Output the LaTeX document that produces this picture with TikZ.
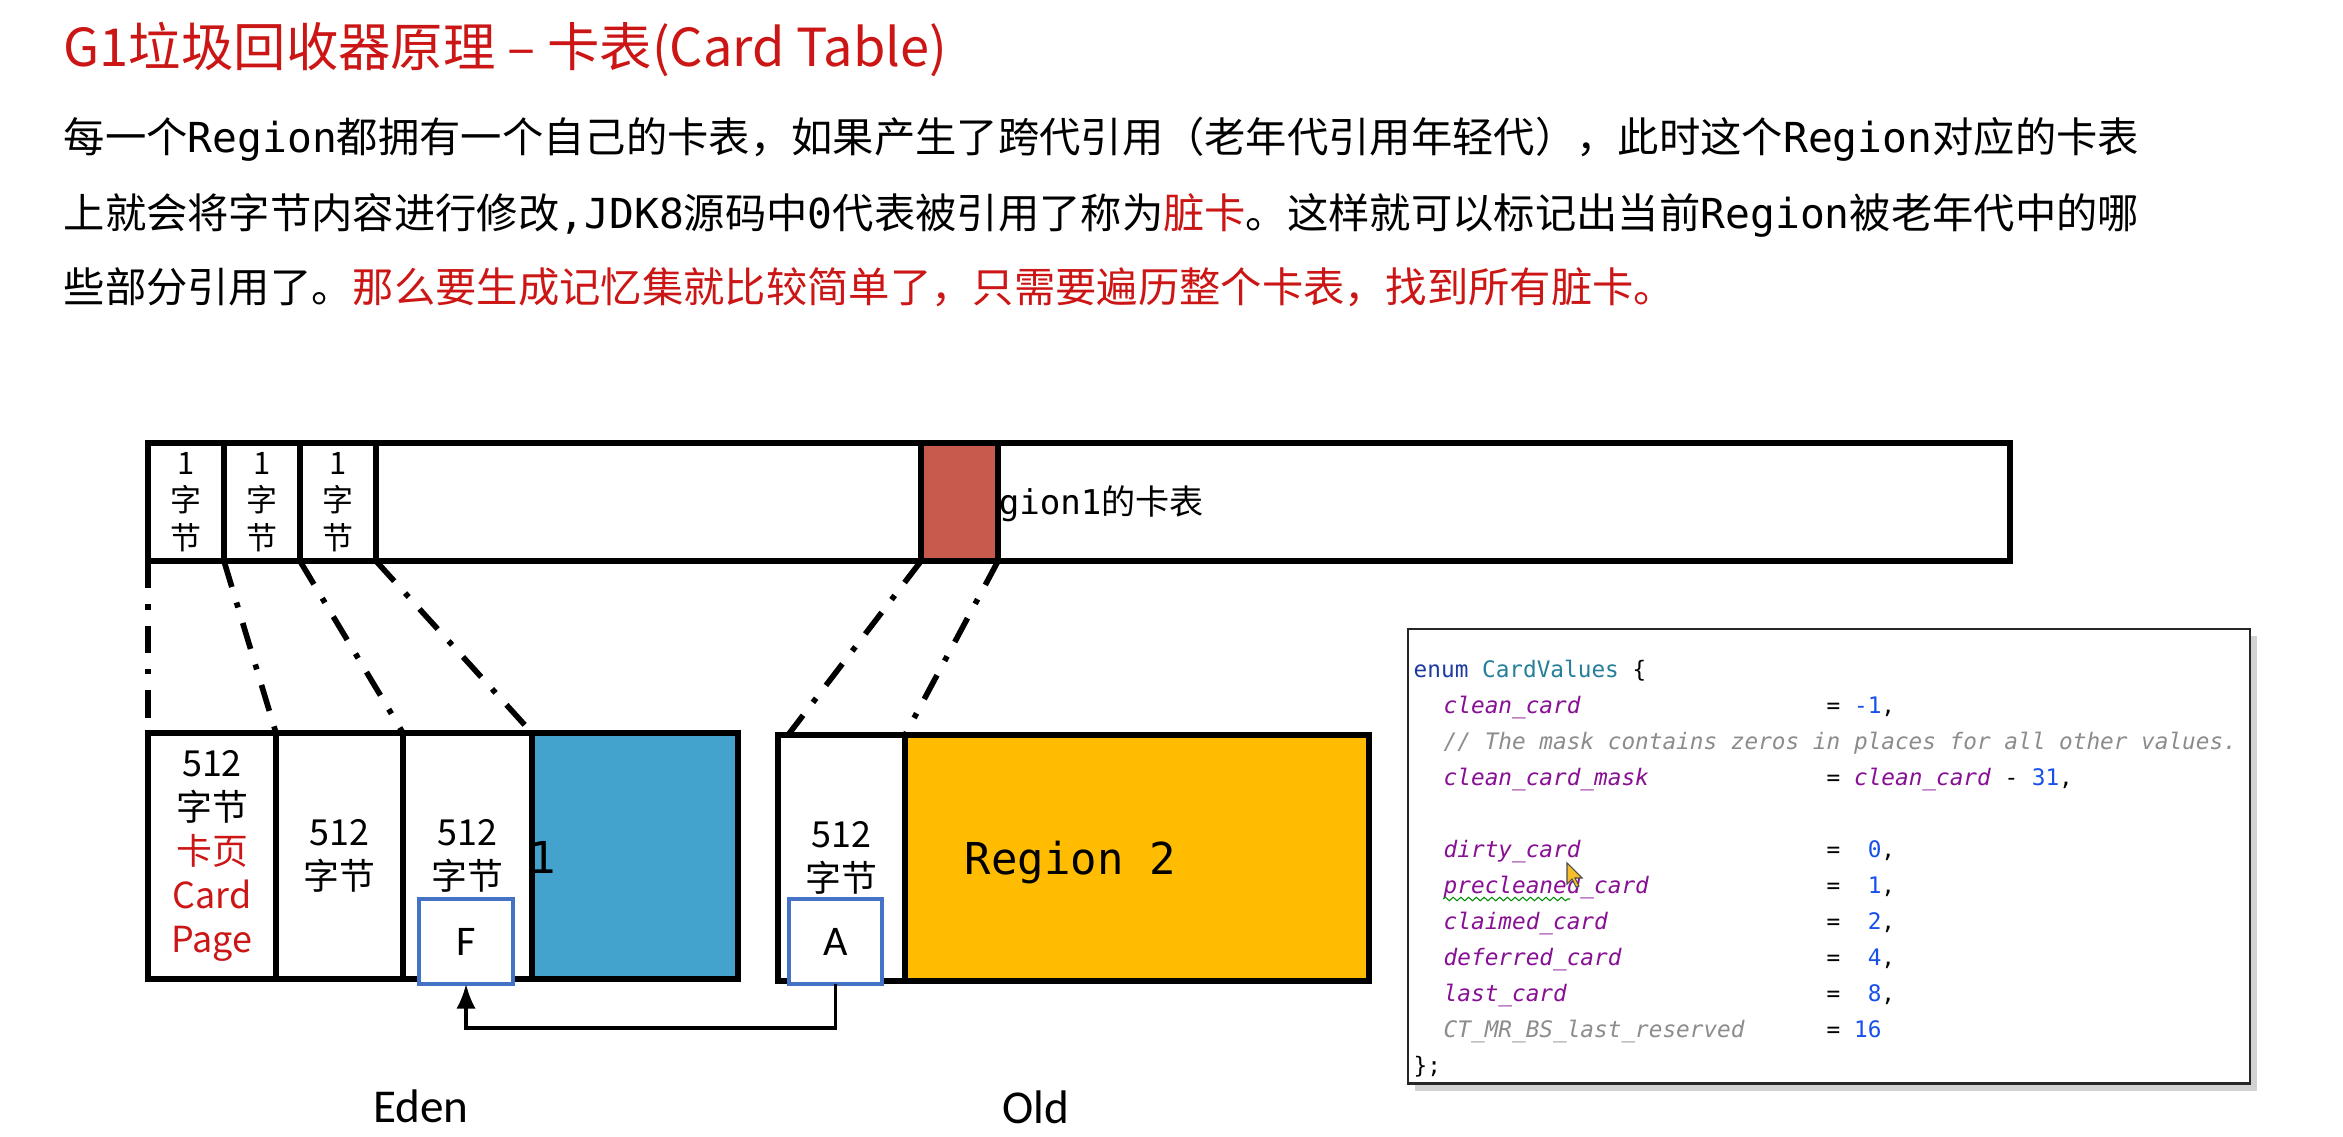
\documentclass[tikz,border=0pt]{standalone}
\usepackage{fontspec}
\setmainfont{Noto Sans CJK SC}
\newfontfamily\monofont{DejaVu Sans Mono}
\newfontfamily\calfont{Carlito}
\usetikzlibrary{arrows.meta,calc,shadows,decorations.pathmorphing}

\definecolor{titlered}{RGB}{204,22,22}
\definecolor{cardred}{RGB}{200,90,77}
\definecolor{edenblue}{RGB}{68,163,204}
\definecolor{oldorange}{RGB}{255,188,0}
\definecolor{frameblue}{RGB}{68,114,196}
\definecolor{kwblue}{RGB}{30,60,160}
\definecolor{typeteal}{RGB}{38,127,153}
\definecolor{constpurple}{RGB}{135,16,148}
\definecolor{cmtgray}{RGB}{140,140,140}
\definecolor{numblue}{RGB}{23,80,235}

\newcommand\fsz[2]{\fontsize{#1}{#2}\selectfont}
\newcommand\mn[1]{{\monofont #1}}

\begin{document}
\begin{tikzpicture}[x=0.01cm,y=-0.01cm,
  outline/.style={draw, line width=1.6pt, rectangle, inner sep=0pt, outer sep=0pt, anchor=north west},
  cardcell/.style={outline, minimum height=1.18cm, align=center, font=\fsz{8.8pt}{10.6pt}},
  memcell/.style={outline, minimum height=2.46cm, align=center, font=\fsz{10.2pt}{12.5pt}},
  objbox/.style={draw=frameblue, line width=1.2pt, fill=white, rectangle, inner sep=0pt, outer sep=0pt,
    anchor=north west, minimum height=0.85cm, font={\calfont\fsz{12pt}{14pt}}},
  dashdot/.style={line width=1.6pt, dash pattern=on 7.7pt off 4.6pt on 1.5pt off 4.6pt},
  para/.style={anchor=base west, inner sep=0pt, font=\fsz{11.75pt}{14pt}},
  code/.style={anchor=base west, inner sep=0pt, font={\monofont\fsz{6.46pt}{8pt}}},
  genlabel/.style={inner sep=0pt, font={\calfont\fsz{13.4pt}{16pt}}},
  refarrow/.style={line width=0.9pt, -{Latex[length=7pt,width=5.5pt]}}
]
\useasboundingbox[fill=white] (0,0) rectangle (2343,1137);

% heading and explanation
\node[anchor=base west, inner sep=0pt, text=titlered, font=\fsz{14.9pt}{17pt}] (title) at (63,67)
  {G1垃圾回收器原理 – 卡表(Card Table)};
\node[para] (p1) at (63,153) {每一个\mn{Region}都拥有一个自己的卡表，如果产生了跨代引用（老年代引用年轻代），此时这个\mn{Region}对应的卡表};
\node[para] (p2) at (63,229) {上就会将字节内容进行修改\mn{,JDK8}源码中\mn{0}代表被引用了称为{\color{titlered}脏卡}。这样就可以标记出当前\mn{Region}被老年代中的哪};
\node[para] (p3) at (63,303) {些部分引用了。{\color{titlered}那么要生成记忆集就比较简单了，只需要遍历整个卡表，找到所有脏卡。}};

% card table of region 1
\node[outline, minimum width=18.61cm, minimum height=1.18cm] (ct) at (148,443) {};
\node[anchor=base west, inner sep=0pt, font={\fsz{9.7pt}{12pt}}] (ctlabel) at (957,515) {\mn{Region1}的卡表};
\node[cardcell, minimum width=0.76cm] (c1) at (148,443) {1\\字\\节};
\node[cardcell, minimum width=0.76cm] (c2) at (224,443) {1\\字\\节};
\node[cardcell, minimum width=0.76cm] (c3) at (300,443) {1\\字\\节};
\node[cardcell, minimum width=0.77cm, fill=cardred] (rc) at (921,443) {};

% Eden region split into 512-byte card pages
\node[memcell, minimum width=1.28cm] (e1) at (148,733)
  {512\\字节\\{\color{titlered}卡页}\\{\color{titlered}Card}\\{\color{titlered}Page}};
\node[memcell, minimum width=1.27cm] (e2) at (276,733) {512\\字节};
\node[memcell, minimum width=1.29cm] (e3) at (403,733) {512\\字节};
\node[memcell, minimum width=2.06cm, fill=edenblue] (eb) at (532,733) {};
\node[anchor=base, inner sep=0pt, font={\monofont\fsz{12.5pt}{15pt}}] (eblabel) at (543,873) {1};

% Old region
\node[memcell, minimum width=1.27cm] (o1) at (778,735) {512\\字节};
\node[memcell, minimum width=4.64cm, fill=oldorange] (ob) at (905,735) {};
\node[anchor=base west, inner sep=0pt, font={\monofont\fsz{12.5pt}{15pt}}] (oblabel) at (964,874) {Region 2};

% objects and the cross-generation reference
\node[objbox, minimum width=0.94cm] (F) at (419,899) {F};
\node[objbox, minimum width=0.93cm] (A) at (789,899) {A};
\draw[refarrow] (A.south) -- ++(0,44) -| (F.south);

% mapping of card entries to card pages
\draw[dashdot] (c1.south west) -- (e1.north west);
\draw[dashdot] (c2.south west) -- (e2.north west);
\draw[dashdot] (c3.south west) -- (e3.north west);
\draw[dashdot] (c3.south east) -- (eb.north west);
\draw[dashdot] (rc.south west) -- ($(o1.north west)+(10,0)$);
\draw[dashdot] (rc.south east) -- (ob.north west);

% generation labels
\node[genlabel] (eden) at (421,1106) {Eden};
\node[genlabel] (old) at (1036,1107) {Old};

% HotSpot source excerpt
\node[draw=black!85, line width=0.7pt, fill=white, rectangle, anchor=north west, inner sep=0pt,
  minimum width=8.41cm, minimum height=4.54cm,
  drop shadow={shadow xshift=2pt, shadow yshift=-2pt, opacity=0.35}] (codebox) at (1407,628) {};
\node[code] (l0) at (1413,677) {{\color{kwblue}enum} {\color{typeteal}CardValues} \{};
\node[code, text=constpurple] (n1) at (1443,713) {\itshape clean\_card};
\node[code] (v1) at (1826,713) {= {\color{numblue}-1},};
\node[code, text=cmtgray] (cm) at (1443,749) {\itshape // The mask contains zeros in places for all other values.};
\node[code, text=constpurple] (n2) at (1443,785) {\itshape clean\_card\_mask};
\node[code] (v2) at (1826,785) {= {\color{constpurple}\itshape clean\_card} - {\color{numblue}31},};
\node[code, text=constpurple] (n3) at (1443,857) {\itshape dirty\_card};
\node[code] (v3) at (1826,857) {=~~{\color{numblue}0},};
\node[code, text=constpurple] (n4) at (1443,893) {\itshape precleaned\_card};
\node[code] (v4) at (1826,893) {=~~{\color{numblue}1},};
\node[code, text=constpurple] (n5) at (1443,929) {\itshape claimed\_card};
\node[code] (v5) at (1826,929) {=~~{\color{numblue}2},};
\node[code, text=constpurple] (n6) at (1443,965) {\itshape deferred\_card};
\node[code] (v6) at (1826,965) {=~~{\color{numblue}4},};
\node[code, text=constpurple] (n7) at (1443,1001) {\itshape last\_card};
\node[code] (v7) at (1826,1001) {=~~{\color{numblue}8},};
\node[code, text=cmtgray] (n8) at (1443,1037) {\itshape CT\_MR\_BS\_last\_reserved};
\node[code] (v8) at (1826,1037) {= {\color{numblue}16}};
\node[code] (l9) at (1413,1073) {\};};

% spell-check squiggle and mouse pointer
\draw[green!55!black, line width=0.3pt, decorate, decoration={snake, amplitude=0.5pt, segment length=2.2pt}]
  (1443,899) -- (1570,899);
\draw[fill={rgb,255:red,245;green,190;blue,40}, draw=black!70, line width=0.3pt]
  (1567,863) -- (1567,884) -- (1572,879) -- (1576,887) -- (1579,886) -- (1575,878) -- (1582,878) -- cycle;
\end{tikzpicture}
\end{document}
